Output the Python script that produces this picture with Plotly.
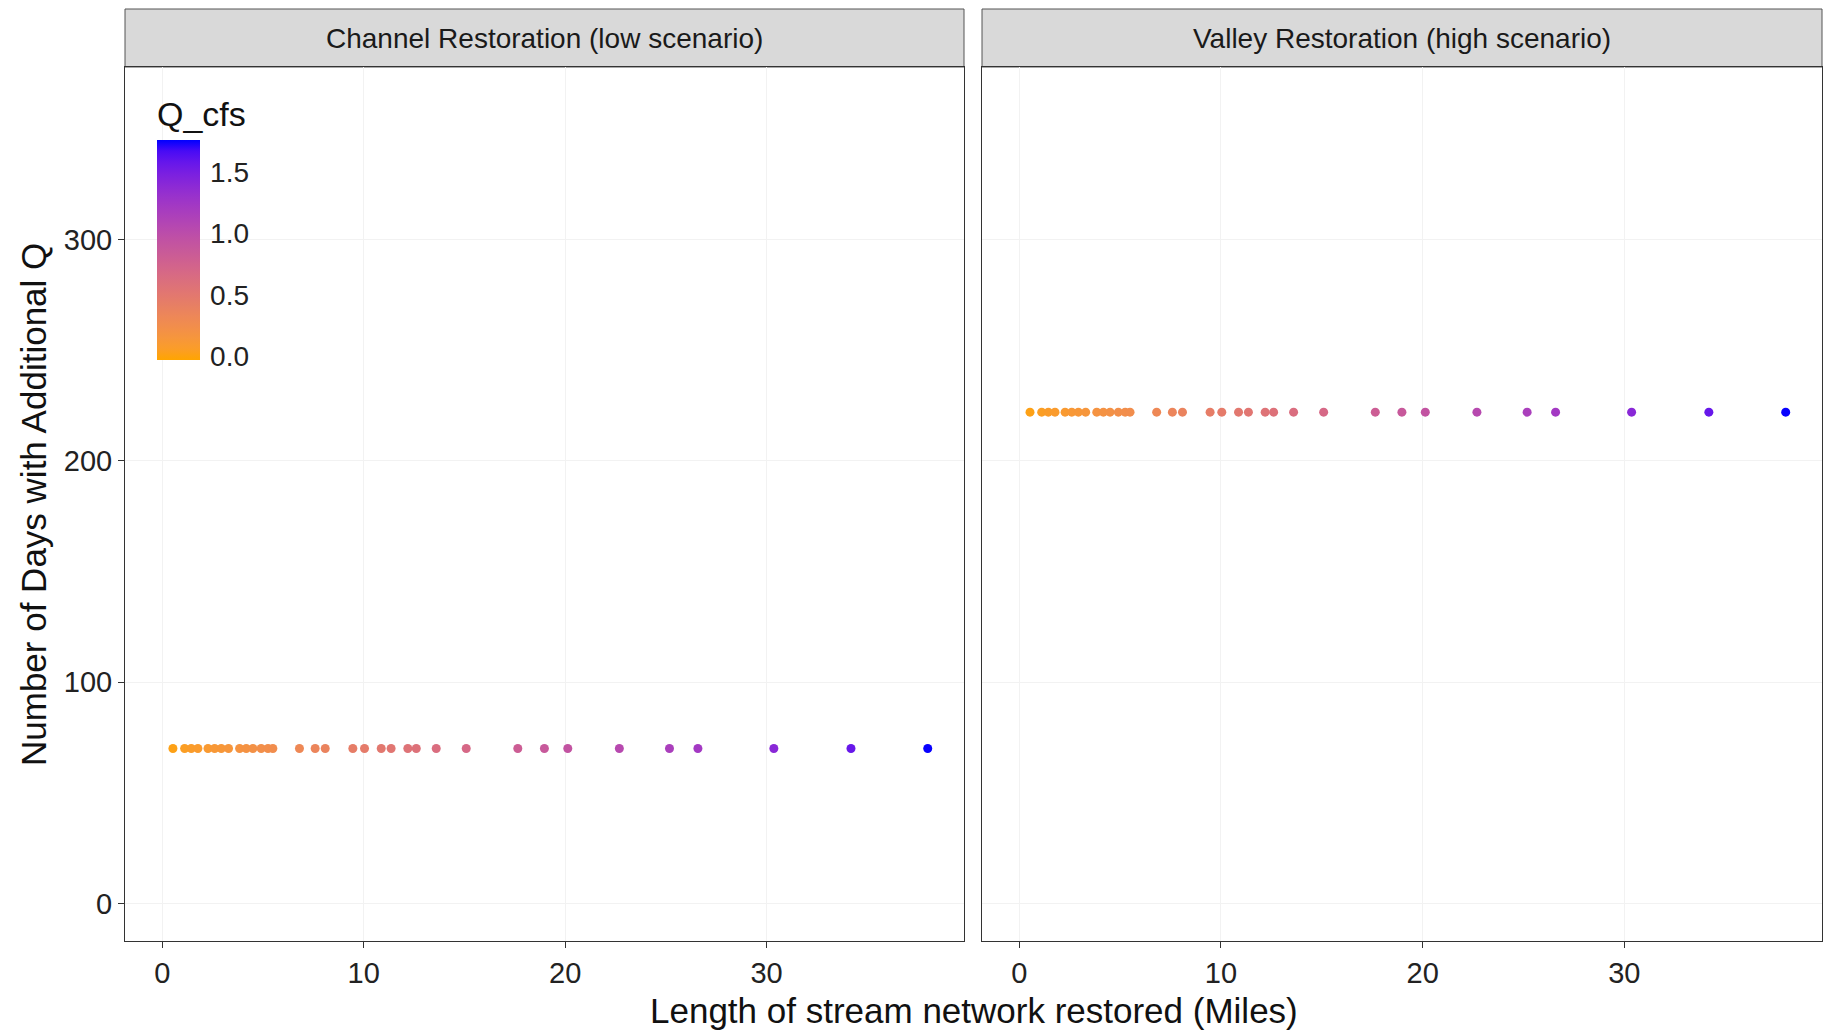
import plotly.graph_objects as go
import numpy as np

# ---- data ----
miles = [0.53, 1.11, 1.44, 1.77, 2.27, 2.60, 2.93, 3.29, 3.84, 4.17, 4.50, 4.91, 5.25, 5.49,
         6.81, 7.59, 8.09, 9.46, 10.04, 10.87, 11.36, 12.19, 12.61, 13.60, 15.09, 17.65,
         18.97, 20.13, 22.69, 25.18, 26.59, 30.36, 34.19, 38.0]
q_cfs = [0.02, 0.05, 0.07, 0.08, 0.10, 0.12, 0.13, 0.15, 0.18, 0.19, 0.21, 0.23, 0.24, 0.25,
         0.31, 0.35, 0.37, 0.44, 0.46, 0.50, 0.52, 0.56, 0.58, 0.63, 0.69, 0.81,
         0.87, 0.93, 1.04, 1.16, 1.22, 1.40, 1.57, 1.75]
days_low = [70] * len(miles)
days_high = [222] * len(miles)
panels = ["Channel Restoration (low scenario)", "Valley Restoration (high scenario)"]
x_ticks = [0, 10, 20, 30]
y_ticks = [0, 100, 200, 300]
cb_ticks = [0.0, 0.5, 1.0, 1.5]


# ---- ggplot-like Lab gradient orange -> blue ----
def srgb_to_lab(rgb):
    c = np.array(rgb) / 255.0
    c = np.where(c > 0.04045, ((c + 0.055) / 1.055) ** 2.4, c / 12.92)
    M = np.array([[0.4124, 0.3576, 0.1805], [0.2126, 0.7152, 0.0722], [0.0193, 0.1192, 0.9505]])
    xyz = M @ c
    xyz = xyz / np.array([0.95047, 1.0, 1.08883])
    f = np.where(xyz > 0.008856, np.cbrt(xyz), 7.787 * xyz + 16 / 116)
    return np.array([116 * f[1] - 16, 500 * (f[0] - f[1]), 200 * (f[1] - f[2])])


def lab_to_srgb(lab):
    L, a, b = lab
    fy = (L + 16) / 116
    fx = fy + a / 500
    fz = fy - b / 200
    f = np.array([fx, fy, fz])
    xyz = np.where(f ** 3 > 0.008856, f ** 3, (f - 16 / 116) / 7.787)
    xyz = xyz * np.array([0.95047, 1.0, 1.08883])
    Minv = np.array([[3.2406, -1.5372, -0.4986], [-0.9689, 1.8758, 0.0415], [0.0557, -0.2040, 1.0570]])
    c = Minv @ xyz
    c = np.where(c > 0.0031308, 1.055 * np.clip(c, 0, None) ** (1 / 2.4) - 0.055, 12.92 * c)
    c = np.clip(c, 0, 1) * 255
    return "rgb(%d,%d,%d)" % tuple(np.round(c).astype(int))


lo = srgb_to_lab((255, 165, 0))
hi = srgb_to_lab((0, 0, 255))
colorscale = [[t, lab_to_srgb(lo + (hi - lo) * t)] for t in np.linspace(0, 1, 21)]

cmin, cmax = -0.03, 1.76

W, H = 1827, 1030
ml, mr, mt, mb = 125, 5, 9, 89
plot_w = W - ml - mr
plot_h = H - mt - mb
strip_px = 58
ytop = 1 - strip_px / plot_h
dom1 = [0, (964 - ml) / plot_w]
dom2 = [(982 - ml) / plot_w, 1]

fig = go.Figure()
fig.add_trace(go.Scatter(
    x=miles, y=days_low, mode="markers", xaxis="x", yaxis="y",
    marker=dict(size=9, color=q_cfs, colorscale=colorscale, cmin=cmin, cmax=cmax,
                showscale=True,
                colorbar=dict(
                    title=dict(text="Q_cfs", side="top", font=dict(size=34, color="#111")),
                    x=(157 - ml) / plot_w, xanchor="left", xref="paper",
                    y=(H - mb - 97) / plot_h, yanchor="top",
                    len=263, lenmode="pixels", thickness=43, thicknessmode="pixels",
                    xpad=0, ypad=0, outlinewidth=0,
                    tickvals=cb_ticks, ticktext=["%.1f" % v for v in cb_ticks],
                    ticks="outside", ticklen=5, tickcolor="white", tickwidth=1,
                    tickfont=dict(size=28, color="#222"),
                    bgcolor="rgba(0,0,0,0)",
                ),
                line=dict(width=0)),
    showlegend=False, hoverinfo="x+y",
))
fig.add_trace(go.Scatter(
    x=miles, y=days_high, mode="markers", xaxis="x2", yaxis="y2",
    marker=dict(size=9, color=q_cfs, colorscale=colorscale, cmin=cmin, cmax=cmax,
                showscale=False, line=dict(width=0)),
    showlegend=False, hoverinfo="x+y",
))

xr = [-1.85, 39.8]
yr = [-17, 378]
axis_common = dict(showline=True, linecolor="#333", linewidth=1, mirror=True,
                   ticks="outside", ticklen=6, tickcolor="#333", tickwidth=1,
                   showgrid=True, gridcolor="#F2F2F2", gridwidth=1, zeroline=False,
                   tickfont=dict(size=29, color="#222"))
fig.update_layout(
    width=W, height=H,
    margin=dict(l=ml, r=mr, t=mt, b=mb),
    paper_bgcolor="white", plot_bgcolor="white",
    font=dict(family="Liberation Sans, Arial, sans-serif"),
    xaxis=dict(domain=dom1, range=xr, tickvals=x_ticks, anchor="y", **axis_common),
    xaxis2=dict(domain=dom2, range=xr, tickvals=x_ticks, anchor="y2", **axis_common),
    yaxis=dict(domain=[0, ytop], range=yr, tickvals=y_ticks, anchor="x", **axis_common),
    yaxis2=dict(domain=[0, ytop], range=yr, tickvals=y_ticks, anchor="x2",
                showticklabels=False, **{k: v for k, v in axis_common.items() if k != "ticks"},
                ticks=""),
)

shapes = []
annotations = []
for dom, label in zip([dom1, dom2], panels):
    shapes.append(dict(type="rect", xref="paper", yref="paper", x0=dom[0], x1=dom[1],
                       y0=ytop, y1=1, fillcolor="#D9D9D9", line=dict(color="#555", width=1),
                       layer="below"))
    annotations.append(dict(text=label, xref="paper", yref="paper", x=(dom[0] + dom[1]) / 2,
                            y=(ytop + 1) / 2, xanchor="center", yanchor="middle",
                            showarrow=False, font=dict(size=28, color="#1a1a1a")))
annotations.append(dict(text="Length of stream network restored (Miles)", xref="paper", yref="paper",
                        x=(974 - ml) / plot_w, y=(H - mb - 1010) / plot_h, xanchor="center",
                        yanchor="middle", showarrow=False, font=dict(size=35, color="#111")))
annotations.append(dict(text="Number of Days with Additional Q", xref="paper", yref="paper",
                        x=(33 - ml) / plot_w, y=(H - mb - 505) / plot_h, xanchor="center",
                        yanchor="middle", textangle=-90, showarrow=False,
                        font=dict(size=35, color="#111")))
fig.update_layout(shapes=shapes, annotations=annotations)

fig.write_html("out.html", config={"displayModeBar": False},
               post_script="document.body.style.margin='0px';document.body.style.overflow='hidden';")
